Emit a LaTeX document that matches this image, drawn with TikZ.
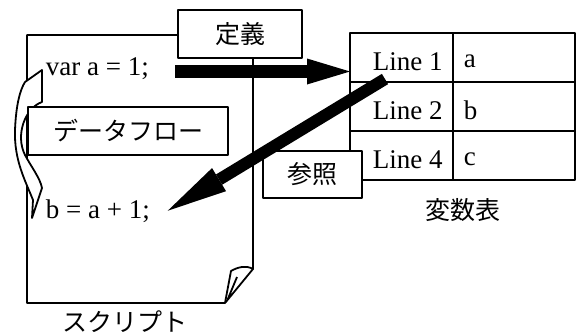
\documentclass[tikz,border=0pt]{standalone}
\usepackage{fontspec}
\setmainfont{Liberation Serif}
\newfontfamily\jpfont{Noto Sans CJK JP}
\usetikzlibrary{arrows.meta,positioning}
\begin{document}
\begin{tikzpicture}[x=1pt,y=-1pt,line join=round,line width=1.8pt,
	code/.style={font=\fontsize{27}{30}\selectfont,inner sep=0pt,anchor=base west},
	jp/.style={font=\jpfont\fontsize{25}{28}\selectfont},
	tag/.style={jp,draw,fill=white,inner sep=0pt},
	cell/.style={draw,minimum height=49pt,inner sep=0pt,outer sep=0pt},
	defarrow/.style={line cap=butt,line width=13pt,-{Triangle[length=43pt,width=26pt,line width=0pt]}},
	refarrow/.style={line cap=butt,line width=12pt,-{Triangle[length=60pt,width=27pt,line width=0pt]}}]
	\useasboundingbox (0,0) rectangle (578,335);
	% script page with curled corner
	\draw[fill=white] (27,303)--(27,35)--(253,35)--(253,269)..controls(246,265) and (238,267)..(231,271)--(225,303)--cycle;
	\draw (253,269)--(225,303) (237,277)--(227,301);
	% data flow ribbon
	\draw[fill=white] (25,82)--(42,70)--(42,102)..controls(25,108) and (15,135)..(25,155)..controls(32,168) and (40,178)..(42,188)--(32,218)--(33,200)..controls(25,180) and (14,160)..(15,130)..controls(16,105) and (20,90)..(25,82);
	\node[tag,minimum width=200pt,minimum height=48pt] (flowTag) at (128,131) {データフロー};
	\node[code] (var) at (45,75) {var a = 1;};
	\node[code] (bline) at (45,218) {b = a + 1;};
	\node[tag,minimum width=124pt,minimum height=48pt] (defTag) at (240,34) {定義};
	% variable table
	\foreach \n/\v [count=\i] in {1/a,2/b,4/c}{
		\node[cell,minimum width=103pt] (key\i) at (401.5,{8.5+49*\i}) {};
		\node[cell,minimum width=122pt,right=0pt of key\i] (val\i) {};
		\node[code,anchor=west,right=22pt of key\i.west,yshift=-4pt] (line\i) {Line \n};
		\node[code,anchor=west,right=10pt of val\i.west,yshift=-4pt] (var\i) {\v};
	}
	\node[jp] (tableName) at (463,210) {変数表};
	\node[tag,minimum width=99pt,minimum height=47pt] (refTag) at (312.5,174.5) {参照};
	\coordinate (defStart) at (175,71.5);
	\coordinate (refStart) at (385,79);
	\draw[defarrow] (defStart)--([yshift=-14pt]key1.west);
	\draw[refarrow] (refStart)--([xshift=17pt]bline.east);
	\node[jp] (scriptName) at (125,322) {スクリプト};
\end{tikzpicture}
\end{document}
